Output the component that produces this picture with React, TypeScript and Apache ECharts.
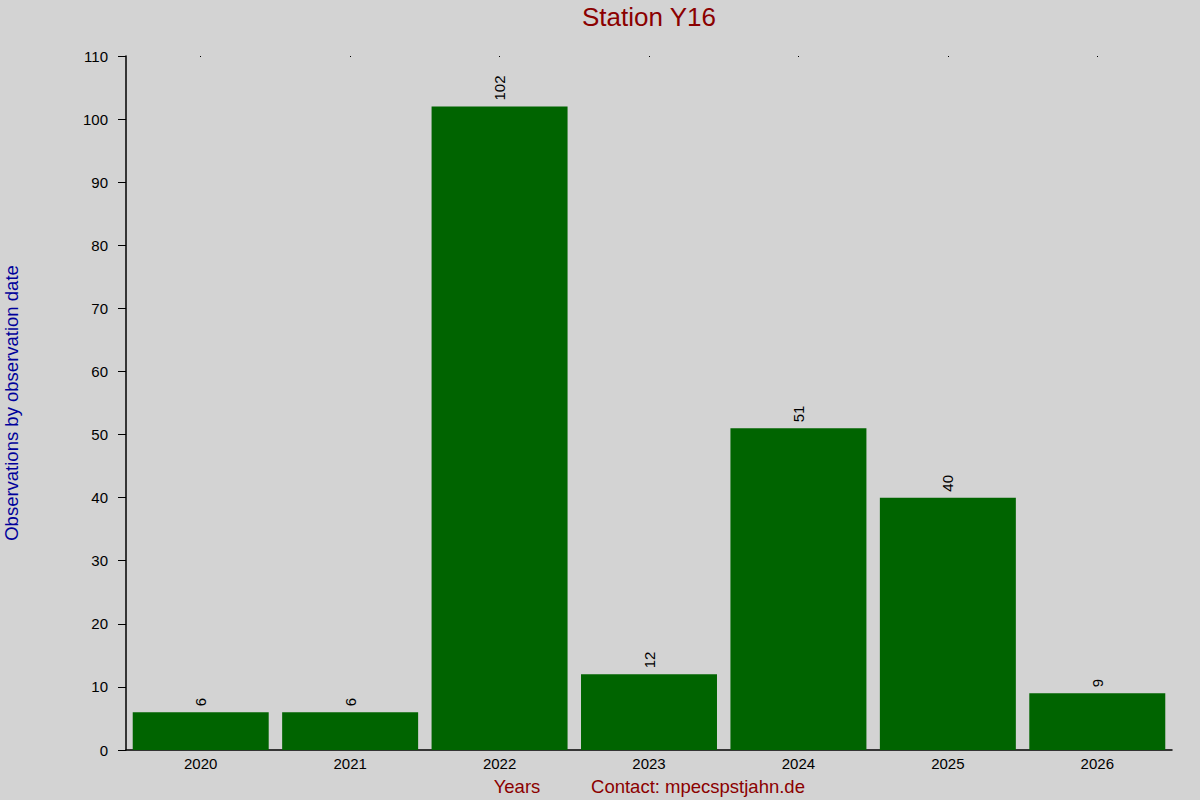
import React, { useEffect, useRef } from "react";
import * as echarts from "echarts";

const years = ["2020", "2021", "2022", "2023", "2024", "2025", "2026"];
const counts = [6, 6, 102, 12, 51, 40, 9];
const titleText = "Station Y16";
const yName = "Observations by observation date";
const xName = "Years";
const contact = "Contact: mpecspstjahn.de";

const FONT = "Liberation Sans, Arial, sans-serif";

export default function App() {
  const ref = useRef<HTMLDivElement>(null);
  useEffect(() => {
    const chart = echarts.init(ref.current!, null, { renderer: "svg" });
    chart.setOption({
      animation: false,
      backgroundColor: "#d3d3d3",
      textStyle: { fontFamily: FONT },
      grid: { left: 126, right: 28, top: 56, bottom: 50, outerBoundsMode: "none", containLabel: false },
      xAxis: [
        {
          type: "category",
          data: years,
          axisLine: { lineStyle: { color: "#000", width: 1.5 } },
          axisTick: { show: false },
          axisLabel: { color: "#000", fontSize: 15, margin: 6 },
        },
        {
          type: "category",
          data: years,
          position: "top",
          axisLine: { show: false },
          axisTick: { show: true, alignWithLabel: true, length: -1, lineStyle: { color: "#000" } },
          axisLabel: { show: false },
        },
      ],
      yAxis: {
        type: "value",
        min: 0,
        max: 110,
        interval: 10,
        name: yName,
        nameLocation: "middle",
        nameGap: 105,
        nameTextStyle: { color: "#00009b", fontSize: 18.5 },
        axisLine: { show: true, lineStyle: { color: "#000", width: 1.5 } },
        axisTick: { show: true, length: 8, lineStyle: { color: "#000" } },
        axisLabel: { color: "#000", fontSize: 15, margin: 18 },
        splitLine: { show: false },
      },
      series: [
        {
          type: "bar",
          data: counts,
          barCategoryGap: "9%",
          itemStyle: { color: "#006400" },
          label: {
            show: true,
            position: "top",
            rotate: 90,
            distance: 6,
            align: "left",
            verticalAlign: "middle",
            color: "#000",
            fontSize: 15,
          },
        },
      ],
      graphic: [
        {
          type: "text",
          x: 649,
          y: 17,
          style: { text: titleText, fill: "#8b0000", fontSize: 26, align: "center", verticalAlign: "middle", fontFamily: FONT },
        },
        {
          type: "text",
          x: 517,
          y: 786,
          style: { text: xName, fill: "#8b0000", fontSize: 18.5, align: "center", verticalAlign: "middle", fontFamily: FONT },
        },
        {
          type: "text",
          x: 698,
          y: 786,
          style: { text: contact, fill: "#8b0000", fontSize: 18.5, align: "center", verticalAlign: "middle", fontFamily: FONT },
        },
      ],
    });
    return () => chart.dispose();
  }, []);
  return <div ref={ref} style={{ position: "fixed", left: 0, top: 0, width: 1200, height: 800 }} />;
}
